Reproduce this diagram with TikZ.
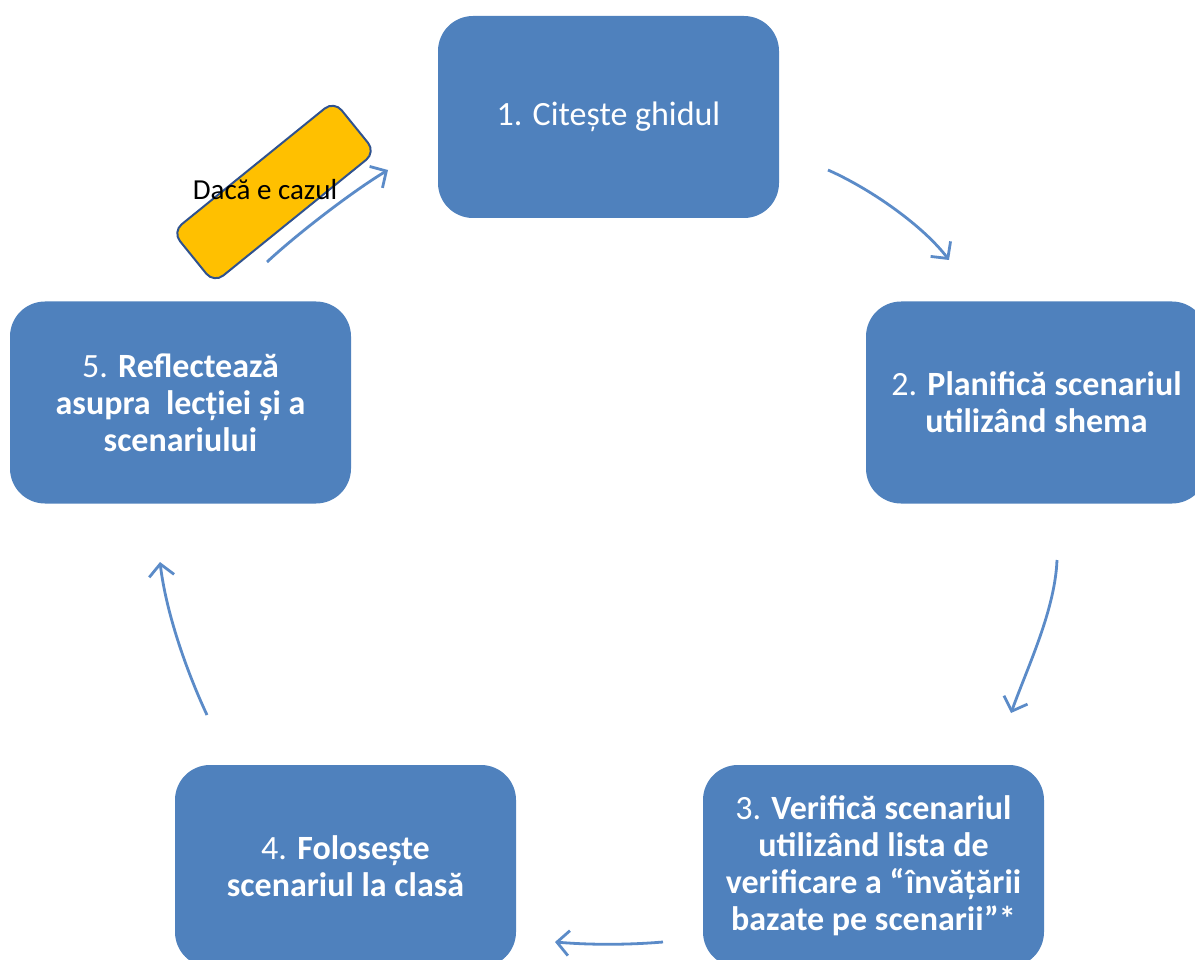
\documentclass[tikz,border=0pt]{standalone}
\usepackage{fontspec}
\setmainfont{Carlito}
\usetikzlibrary{arrows.meta}
\definecolor{boxblue}{HTML}{4F81BD}
\definecolor{arrowblue}{HTML}{5B8BC8}
\definecolor{gold}{HTML}{FFC000}
\definecolor{edgeblue}{HTML}{2F528F}
\begin{document}
\begin{tikzpicture}[x=1pt,y=-1pt,
  stage/.style={fill=boxblue, rounded corners=35pt, minimum width=341pt, minimum height=202pt,
    text=white, align=center, font=\fontsize{34}{37}\selectfont, inner sep=0pt},
  flow/.style={draw=arrowblue, line width=2.8pt, -{Straight Barb[length=12pt,width=25pt]}},
  optbox/.style={draw=edgeblue, line width=2pt, fill=gold, rounded corners=12pt,
    minimum width=208pt, minimum height=66pt, inner sep=0pt}]
\useasboundingbox (0,0) rectangle (1195,960);
\clip (0,0) rectangle (1195,960);
% stages
\node[stage] (s1) at (608.5,117) {1. Citește ghidul};
\node[stage] (s2) at (1036.5,402.5) {2. \textbf{Planifică scenariul}\\\textbf{utilizând shema}};
\node[stage] (s3) at (873.5,866) {3. \textbf{Verifică scenariul}\\\textbf{utilizând lista de}\\\textbf{verificare a “învățării}\\\textbf{bazate pe scenarii”*}};
\node[stage] (s4) at (345.5,866) {4. \textbf{Folosește}\\\textbf{scenariul la clasă}};
\node[stage] (s5) at (180.5,402.5) {5. \textbf{Reflectează}\\\textbf{asupra\ \ lecției și a}\\\textbf{scenariului}};
% arrow end points
\coordinate (a12s) at (828,170);
\coordinate (a12e) at (949,260);
\coordinate (a23s) at (1057,560);
\coordinate (a23e) at (1011,713);
\coordinate (a34s) at (663,942);
\coordinate (a34e) at (555,942);
\coordinate (a45s) at (207,715);
\coordinate (a45e) at (160,562);
\coordinate (a51s) at (267,262);
\coordinate (a51e) at (388,170);
\draw[flow] (a12s) .. controls (873,190) and (924,227) .. (a12e);
\draw[flow] (a23s) .. controls (1055,610) and (1028,666) .. (a23e);
\draw[flow] (a34s) .. controls (627,945) and (591,945) .. (a34e);
\draw[flow] (a45s) .. controls (186,670) and (166,612) .. (a45e);
\draw[flow] (a51s) .. controls (297,234) and (353,191) .. (a51e);
% optional tag
\node[optbox, rotate=39] (opt) at (274,192) {};
\node[font=\fontsize{29}{34}\selectfont, text=black, inner sep=0pt] (optlabel) at (265,190) {Dacă e cazul};
\end{tikzpicture}
\end{document}
